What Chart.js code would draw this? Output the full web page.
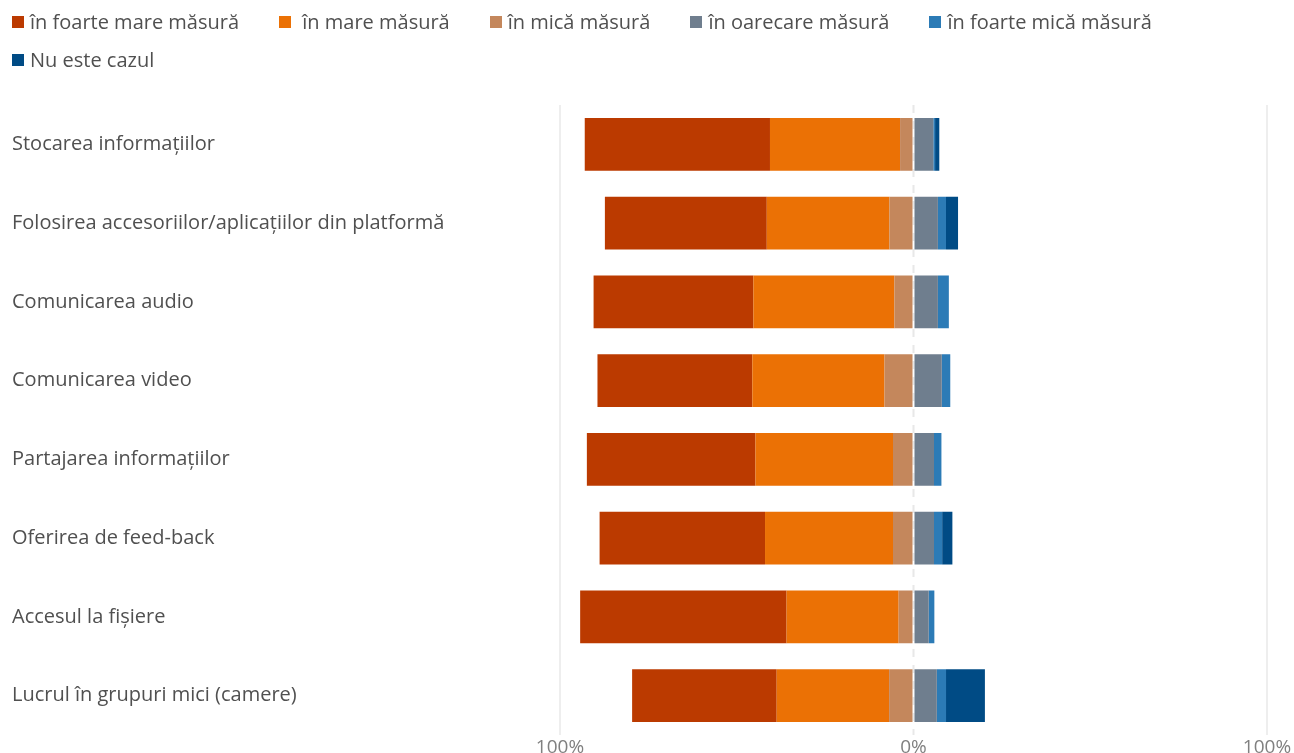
<!DOCTYPE html>
<html lang="ro">
<head>
<meta charset="utf-8">
<title>Diverging stacked bars</title>
<script src="https://cdn.jsdelivr.net/npm/chart.js@4.4.1/dist/chart.umd.min.js"></script>
<style>
  html, body { margin: 0; padding: 0; background: #fff; overflow: hidden; }
  #wrap { position: relative; width: 1294px; height: 753px; }
  #legend {
    position: absolute; left: 12px; top: 10px; width: 1270px;
    display: flex; flex-wrap: wrap; row-gap: 14px;
    font-family: "Open Sans", sans-serif; font-size: 20px; line-height: 24px; color: #505050;
  }
  .item { display: flex; align-items: center; margin-right: 40px; white-space: pre; }
  .box { width: 12px; height: 12px; margin-right: 6px; }
</style>
</head>
<body>
<div id="wrap">
  <canvas id="chart" width="1294" height="753"></canvas>
  <div id="legend"></div>
</div>
<script>
const categories = [
  "Stocarea informațiilor",
  "Folosirea accesoriilor/aplicațiilor din platformă",
  "Comunicarea audio",
  "Comunicarea video",
  "Partajarea informațiilor",
  "Oferirea de feed-back",
  "Accesul la fișiere",
  "Lucrul în grupuri mici (camere)"
];

// percentages (first three drawn left of 0)
const foarteMare = [52.4, 45.8, 45.2, 43.8, 47.7, 46.8, 58.4, 40.9];
const mare       = [36.8, 34.7, 39.9, 37.4, 38.9, 36.2, 31.7, 31.8];
const mica       = [3.8, 6.8, 5.4, 8.2, 5.8, 5.8, 4.2, 6.9];
const oarecare   = [5.6, 6.9, 6.9, 8.0, 5.8, 5.8, 4.3, 6.6];
const foarteMica = [0.5, 2.3, 3.1, 2.4, 2.1, 2.3, 1.6, 2.6];
const nuEste     = [1.2, 3.4, 0, 0, 0, 2.9, 0, 11.0];

const xTicks = [-100, 0, 100];

const series = [
  { label: "în foarte mare măsură", data: foarteMare, color: "#bb3a00", left: true },
  { label: " în mare măsură",       data: mare,       color: "#eb7105", left: true },
  { label: "în mică măsură",        data: mica,       color: "#c4875c", left: true },
  { label: "în oarecare măsură",    data: oarecare,   color: "#6f7e8e", left: false },
  { label: "în foarte mică măsură", data: foarteMica, color: "#2c7bb6", left: false },
  { label: "Nu este cazul",         data: nuEste,     color: "#004b85", left: false }
];

// html legend, in the same order as the picture
const legendEl = document.getElementById("legend");
series.forEach(s => {
  const item = document.createElement("div");
  item.className = "item";
  const box = document.createElement("span");
  box.className = "box";
  box.style.background = s.color;
  item.appendChild(box);
  item.appendChild(document.createTextNode(s.label));
  legendEl.appendChild(item);
});

// stacking goes outward from zero, so the left side is reversed
const leftSide = series.filter(s => s.left).reverse();
const rightSide = series.filter(s => !s.left);
const datasets = leftSide.concat(rightSide).map(s => ({
  label: s.label.trim(),
  data: s.data.map(v => s.left ? -v : v),
  backgroundColor: s.color,
  borderWidth: 0,
  barPercentage: 0.67,
  categoryPercentage: 1
}));

// dashed line at 0%
const zeroLine = {
  id: "zeroLine",
  beforeDatasetsDraw(chart) {
    const { ctx, chartArea, scales } = chart;
    const x = scales.x.getPixelForValue(0);
    ctx.save();
    ctx.strokeStyle = "#e8e8e8";
    ctx.lineWidth = 2;
    ctx.setLineDash([8, 8]);
    ctx.beginPath();
    ctx.moveTo(x, chartArea.top);
    ctx.lineTo(x, chartArea.bottom);
    ctx.stroke();
    ctx.restore();
  }
};

new Chart(document.getElementById("chart"), {
  type: "bar",
  data: { labels: categories, datasets },
  options: {
    indexAxis: "y",
    responsive: false,
    animation: false,
    layout: { padding: { left: 12, right: 27, top: 105, bottom: 0 } },
    plugins: { legend: { display: false }, tooltip: { enabled: false } },
    scales: {
      x: {
        stacked: true,
        min: -100,
        max: 100,
        afterBuildTicks: (scale) => { scale.ticks = xTicks.map(v => ({ value: v })); },
        afterFit: (scale) => { scale.height = 18; },
        ticks: {
          padding: 1,
          color: "#808080",
          font: { family: "Open Sans", size: 19 },
          callback: (v) => Math.abs(v) + "%"
        },
        grid: {
          drawTicks: false,
          lineWidth: 2,
          color: (ctx) => ctx.tick && ctx.tick.value === 0 ? "rgba(0,0,0,0)" : "#eeeeee"
        },
        border: { display: false }
      },
      y: {
        stacked: true,
        afterFit: (scale) => { scale.width = 548; },
        ticks: {
          crossAlign: "far",
          padding: 0,
          color: "#505050",
          font: { family: "Open Sans", size: 20 }
        },
        grid: { display: false },
        border: { display: false }
      }
    }
  },
  plugins: [zeroLine]
});
</script>
</body>
</html>
